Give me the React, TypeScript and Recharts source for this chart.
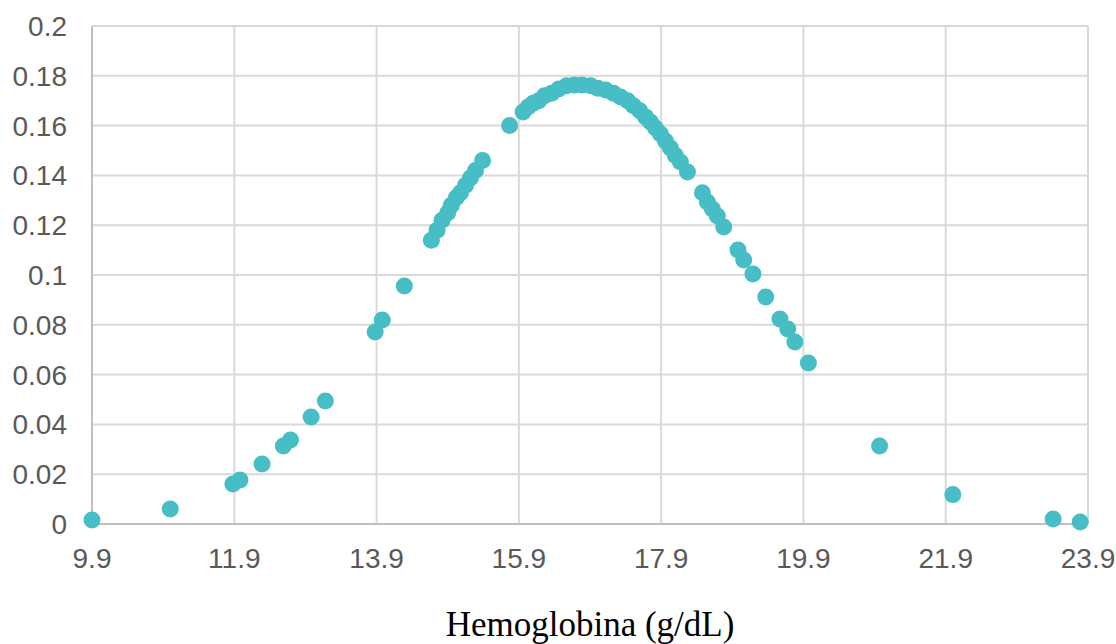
import { CartesianGrid, Scatter, ScatterChart, XAxis, YAxis } from "recharts";

const hemoglobin = [
  9.9, 11.0, 11.88, 11.98, 12.29, 12.59, 12.69, 12.98, 13.18, 13.88, 13.98, 14.29,
  14.67, 14.75, 14.82, 14.9, 14.95, 15.02, 15.08, 15.15, 15.22, 15.29, 15.39, 15.77,
  15.96, 16.03, 16.1, 16.18, 16.26, 16.36, 16.46, 16.57, 16.68, 16.79, 16.91, 17.01,
  17.12, 17.23, 17.33, 17.43, 17.51, 17.6, 17.68, 17.75, 17.82, 17.89, 17.96, 18.03,
  18.1, 18.17, 18.27, 18.48, 18.55, 18.62, 18.69, 18.78, 18.98, 19.06, 19.19, 19.37,
  19.57, 19.68, 19.78, 19.97, 20.97, 22.0, 23.41, 23.79,
];

const density = [
  0.0016, 0.006, 0.0161, 0.0177, 0.0241, 0.0313, 0.0337, 0.043, 0.0494, 0.0771, 0.0819, 0.0956,
  0.114, 0.118, 0.122, 0.125, 0.128, 0.131, 0.133, 0.136, 0.139, 0.142, 0.146, 0.16,
  0.1655, 0.1675, 0.169, 0.17, 0.172, 0.173, 0.1747, 0.176, 0.1763, 0.1763, 0.176, 0.175,
  0.1743, 0.173, 0.1715, 0.17, 0.168, 0.166, 0.1635, 0.1614, 0.159, 0.1566, 0.1538, 0.151,
  0.148, 0.1454, 0.1414, 0.133, 0.1293, 0.1265, 0.1237, 0.1193, 0.11, 0.106, 0.1004, 0.0912,
  0.0823, 0.0783, 0.0731, 0.0647, 0.0313, 0.0118, 0.002, 0.0008,
];

const xTicks = [9.9, 11.9, 13.9, 15.9, 17.9, 19.9, 21.9, 23.9];
const yTicks = [0, 0.02, 0.04, 0.06, 0.08, 0.1, 0.12, 0.14, 0.16, 0.18, 0.2];

const points = hemoglobin.map((x, i) => ({ x, y: density[i] }));

const Dot = (props: any) => (
  <circle cx={props.cx} cy={props.cy} r={8.5} fill="#47BDC6" />
);

const font = "Liberation Sans, Arial, sans-serif";

const XTick = (props: any) => (
  <text x={props.x} y={props.y} dy="0.71em" textAnchor="middle" fontSize={28} fill="#595959" fontFamily={font}>
    {String(props.payload.value)}
  </text>
);

const YTick = (props: any) => (
  <text x={props.x} y={props.y} dy="0.355em" textAnchor="end" fontSize={28} fill="#595959" fontFamily={font}>
    {String(Number(props.payload.value.toFixed(2)))}
  </text>
);

export default function App() {
  return (
    <div style={{ position: "absolute", left: 0, top: 0 }}>
      <ScatterChart
        width={1116}
        height={644}
        margin={{ top: 26, right: 28, bottom: 8, left: 18 }}
      >
        <CartesianGrid stroke="#D9D9D9" strokeWidth={2} />
        <XAxis
          type="number"
          dataKey="x"
          domain={[9.9, 23.9]}
          ticks={xTicks}
          interval={0}
          height={112}
          tickSize={0}
          tickMargin={24}
          tickLine={false}
          stroke="#BFBFBF"
          strokeWidth={2}
          tick={<XTick />}
          label={{
            value: "Hemoglobina (g/dL)",
            position: "insideBottom",
            offset: 0,
            fontSize: 35,
            fill: "#000000",
            fontFamily: "Liberation Serif, Times New Roman, serif",
          }}
        />
        <YAxis
          type="number"
          dataKey="y"
          domain={[0, 0.2]}
          ticks={yTicks}
          interval={0}
          width={74}
          tickSize={0}
          tickMargin={25}
          tickLine={false}
          stroke="#BFBFBF"
          strokeWidth={2}
          tick={<YTick />}
        />
        <Scatter data={points} shape={Dot} isAnimationActive={false} />
      </ScatterChart>
    </div>
  );
}
